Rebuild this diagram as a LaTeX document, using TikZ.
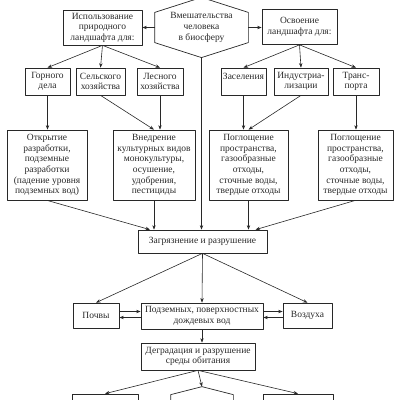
\documentclass[tikz,border=0pt]{standalone}
\usepackage{fontspec}
\setmainfont{Liberation Serif}
\usetikzlibrary{arrows.meta,calc}
\definecolor{schemeink}{RGB}{40,40,40}

\begin{document}
\begin{tikzpicture}[x=1pt,y=-1pt,>={Stealth[length=4.5pt,width=3.4pt]},line join=round,
  procbox/.style={draw=schemeink,line width=.7pt,inner sep=0pt,align=center,
   text=schemeink,font=\fontsize{9.5}{10.6}\selectfont},
  arr/.style={->,draw=schemeink,line width=.6pt}]
 \clip (0,0) rectangle (400,400);
 % top hexagon
 \node[procbox,draw=none,minimum width=93pt,minimum height=29pt] (vmesh)
  at (201.5,27.5) {Вмешательства\\человека\\в биосферу};
 \draw[schemeink,line width=.7pt] (vmesh.north west) -- ([yshift=15pt]vmesh.north)
  -- (vmesh.north east) -- (vmesh.south east) -- ([yshift=-15pt]vmesh.south)
  -- (vmesh.south west) -- cycle;
 \node[procbox,minimum width=79pt,minimum height=35pt] (ispol) at (102.5,27.5)
  {Использование\\природного\\ландшафта для:};
 \node[procbox,minimum width=75pt,minimum height=35pt] (osvo) at (299.5,27)
  {Освоение\\ландшафта для:};
 % second row
 \node[procbox,minimum width=45pt,minimum height=27pt] (gorn) at (47.5,81.5) {Горного\\дела};
 \node[procbox,minimum width=49pt,minimum height=27pt] (selsk) at (100.5,81.5) {Сельского\\хозяйства};
 \node[procbox,minimum width=46pt,minimum height=27pt] (lesn) at (160,81.5) {Лесного\\хозяйства};
 \node[procbox,minimum width=45pt,minimum height=27pt] (zasel) at (243.5,81.5) {Заселения\\~};
 \node[procbox,minimum width=54pt,minimum height=27pt] (indus) at (301,81.5) {Индустриа-\\лизации};
 \node[procbox,minimum width=46pt,minimum height=27pt] (trans) at (356,81.5) {Транс-\\порта};
 % third row
 \node[procbox,minimum width=80pt,minimum height=70pt] (otkr) at (47,165)
  {Открытие\\разработки,\\подземные\\разработки\\(падение уровня\\подземных вод)};
 \node[procbox,minimum width=82pt,minimum height=70pt] (vnedr) at (154,165)
  {Внедрение\\культурных видов\\монокультуры,\\осушение,\\удобрения,\\пестициды};
 \node[procbox,minimum width=79pt,minimum height=70pt] (pogl1) at (248.5,165)
  {Поглощение\\пространства,\\газообразные\\отходы,\\сточные воды,\\твердые отходы};
 \node[procbox,minimum width=75pt,minimum height=70pt] (pogl2) at (355.5,165)
  {Поглощение\\пространства,\\газообразные\\отходы,\\сточные воды,\\твердые отходы};
 % lower part
 \node[procbox,minimum width=129pt,minimum height=23pt] (zagr) at (202.5,241.5)
  {Загрязнение и разрушение};
 \node[procbox,minimum width=46pt,minimum height=25pt] (pochv) at (96,315.5) {Почвы};
 \node[procbox,minimum width=122pt,minimum height=26pt] (vod) at (202,316)
  {Подземных, поверхностных\\дождевых вод};
 \node[procbox,minimum width=49pt,minimum height=25pt] (vozd) at (307.5,315.5) {Воздуха};
 \node[procbox,minimum width=114pt,minimum height=27pt] (degr) at (198,356.5)
  {Деградация и разрушение\\среды обитания};
 \node[procbox,minimum width=66pt,minimum height=34pt] (botL) at (105,411) {};
 \node[procbox,minimum width=70pt,minimum height=34pt] (botR) at (298,411) {};
 \node[procbox,draw=none,minimum width=62pt,minimum height=34pt] (botM) at (202,412) {};
 \draw[schemeink,line width=.7pt] (botM.south west) -- (botM.north west)
  -- ([yshift=8pt]botM.north) -- (botM.north east) -- (botM.south east);
 \coordinate (botMtip) at ([yshift=8pt]botM.north);
 % connectors
 \draw[arr] (vmesh.west) -- (vmesh.west -| ispol.east);
 \draw[arr] (vmesh.east) -- (vmesh.east -| osvo.west);
 \foreach \dst in {gorn,selsk,lesn}
  \draw[arr] (ispol.south) -- (\dst.north);
 \foreach \dst in {zasel,indus,trans}
  \draw[arr] (osvo.south) -- (\dst.north);
 \draw[arr] (gorn.south) -- (gorn.south |- otkr.north);
 \draw[arr] (selsk.south) -- (vnedr.north);
 \draw[arr] (lesn.south) -- (lesn.south |- vnedr.north);
 \draw[arr] (zasel.south) -- (zasel.south |- pogl1.north);
 \draw[arr] (indus.south) -- (pogl1.north);
 \draw[arr] (trans.south) -- (trans.south |- pogl2.north);
 \draw[arr] ([yshift=-15pt]vmesh.south) -- (vmesh.south |- zagr.north);
 \draw[arr] (otkr.south) -- ([xshift=-4pt]vnedr.south |- zagr.north);
 \draw[arr] (vnedr.south) -- (vnedr.south |- zagr.north);
 \draw[arr] (pogl1.south) -- (pogl1.south |- zagr.north);
 \draw[arr] (pogl2.south) -- ([xshift=7pt]pogl1.south |- zagr.north);
 \foreach \dst in {pochv,vod,vozd}
  \draw[arr] (zagr.south) -- (\dst.north);
 \draw[arr] ([yshift=4pt]pochv.east) -- ([yshift=4pt]pochv.east -| vod.west);
 \draw[arr] ([yshift=-2pt]pochv.east -| vod.west) -- ([yshift=-2pt]pochv.east);
 \draw[arr] ([yshift=4pt]vozd.west -| vod.east) -- ([yshift=4pt]vozd.west);
 \draw[arr] ([yshift=-2pt]vozd.west) -- ([yshift=-2pt]vozd.west -| vod.east);
 \draw[arr] (vod.south) -- (vod.south |- degr.north);
 \foreach \dst in {botL.north,botMtip,botR.north}
  \draw[arr] (degr.south) -- (\dst);
\end{tikzpicture}
\end{document}
